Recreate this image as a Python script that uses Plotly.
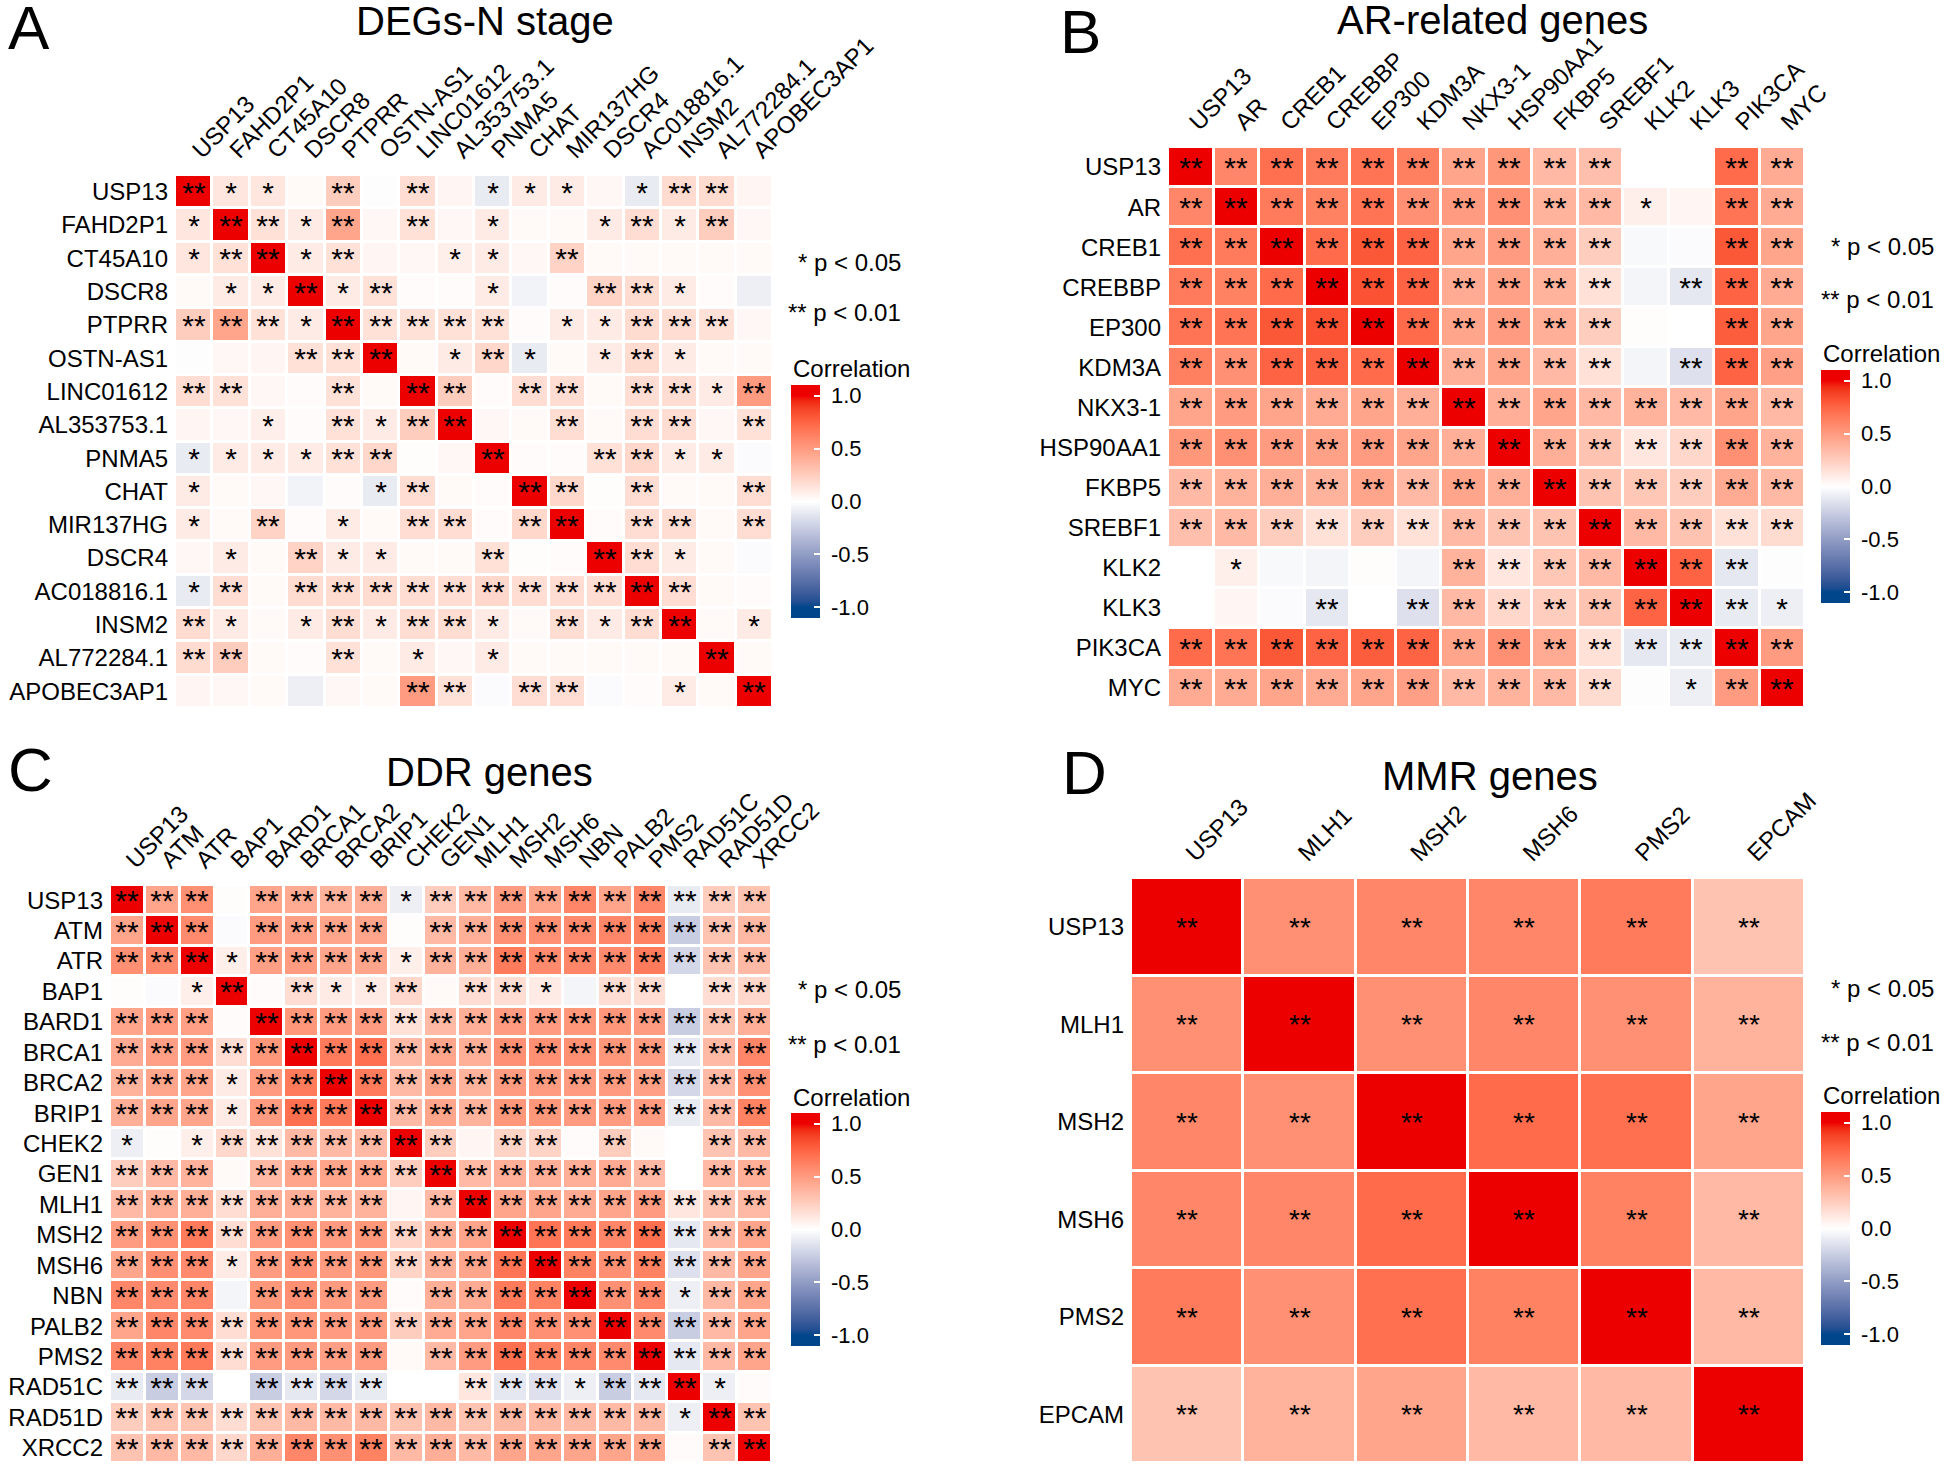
import plotly.graph_objects as go

W, H = 1944, 1466

# ---------------- DATA ----------------
genes_a = ["USP13", "FAHD2P1", "CT45A10", "DSCR8", "PTPRR", "OSTN-AS1", "LINC01612", "AL353753.1",
           "PNMA5", "CHAT", "MIR137HG", "DSCR4", "AC018816.1", "INSM2", "AL772284.1", "APOBEC3AP1"]
corr_a = [
    [1.0, 0.12, 0.12, 0.03, 0.25, -0.01, 0.17, 0.05, -0.10, 0.10, 0.10, 0.04, -0.10, 0.18, 0.18, 0.05],
    [0.12, 1.0, 0.15, 0.10, 0.45, 0.04, 0.15, 0.04, 0.10, 0.03, 0.03, 0.10, 0.17, 0.10, 0.25, 0.04],
    [0.12, 0.15, 1.0, 0.10, 0.15, 0.05, 0.04, 0.08, 0.10, 0.04, 0.22, 0.03, 0.03, 0.03, 0.03, 0.03],
    [0.03, 0.10, 0.10, 1.0, 0.10, 0.15, 0.02, 0.02, 0.10, -0.06, 0.02, 0.22, 0.18, 0.10, 0.02, -0.08],
    [0.25, 0.45, 0.15, 0.10, 1.0, 0.15, 0.15, 0.15, 0.15, 0.02, 0.10, 0.10, 0.18, 0.17, 0.15, 0.04],
    [-0.01, 0.04, 0.05, 0.15, 0.15, 1.0, 0.03, 0.10, 0.20, -0.10, 0.03, 0.10, 0.18, 0.10, 0.03, 0.03],
    [0.17, 0.15, 0.04, 0.02, 0.15, 0.03, 1.0, 0.25, 0.02, 0.17, 0.17, 0.03, 0.17, 0.17, 0.10, 0.50],
    [0.05, 0.04, 0.08, 0.02, 0.15, 0.10, 0.25, 1.0, 0.04, 0.03, 0.17, 0.03, 0.17, 0.17, 0.04, 0.15],
    [-0.10, 0.10, 0.10, 0.10, 0.15, 0.20, 0.01, 0.04, 1.0, 0.02, 0.02, 0.15, 0.20, 0.10, 0.10, -0.02],
    [0.10, 0.03, 0.04, -0.06, 0.02, -0.10, 0.17, 0.03, 0.02, 1.0, 0.20, 0.01, 0.17, 0.03, 0.03, 0.17],
    [0.10, 0.03, 0.22, 0.02, 0.10, 0.03, 0.17, 0.17, 0.02, 0.20, 1.0, 0.02, 0.17, 0.17, 0.03, 0.17],
    [0.04, 0.10, 0.03, 0.22, 0.10, 0.10, 0.03, 0.03, 0.15, 0.01, 0.02, 1.0, 0.17, 0.10, 0.03, -0.02],
    [-0.10, 0.17, 0.03, 0.18, 0.18, 0.18, 0.17, 0.17, 0.20, 0.17, 0.17, 0.17, 1.0, 0.17, 0.03, 0.02],
    [0.18, 0.10, 0.03, 0.10, 0.17, 0.10, 0.17, 0.17, 0.10, 0.03, 0.17, 0.10, 0.17, 1.0, 0.03, 0.10],
    [0.18, 0.25, 0.03, 0.02, 0.15, 0.03, 0.10, 0.04, 0.10, 0.03, 0.03, 0.03, 0.03, 0.03, 1.0, 0.03],
    [0.05, 0.04, 0.03, -0.08, 0.04, 0.03, 0.50, 0.15, -0.02, 0.17, 0.17, -0.02, 0.02, 0.10, 0.03, 1.0],
]
# significance codes: 0 = none, 1 = p<0.05 (*), 2 = p<0.01 (**)
sig_a = ["2110202011101220", "1221202010012120", "1221200110200000", "0112120010022100",
         "2221222220112220", "0002220121012100", "2200202202202212", "0010212200202202",
         "1111220020022110", "1000012002202002", "1020102202202202", "0102110020022100",
         "1202222222222200", "2101212210212201", "2200201010000020", "0000002202200102"]

genes_b = ["USP13", "AR", "CREB1", "CREBBP", "EP300", "KDM3A", "NKX3-1", "HSP90AA1", "FKBP5",
           "SREBF1", "KLK2", "KLK3", "PIK3CA", "MYC"]
corr_b = [
    [1.0, 0.60, 0.70, 0.65, 0.68, 0.63, 0.45, 0.52, 0.35, 0.32, 0.00, 0.00, 0.72, 0.42],
    [0.60, 1.0, 0.65, 0.62, 0.68, 0.55, 0.50, 0.55, 0.38, 0.35, 0.08, 0.05, 0.68, 0.42],
    [0.70, 0.65, 1.0, 0.72, 0.80, 0.75, 0.45, 0.50, 0.40, 0.25, -0.03, -0.02, 0.80, 0.45],
    [0.65, 0.62, 0.72, 1.0, 0.82, 0.75, 0.42, 0.47, 0.38, 0.15, -0.05, -0.12, 0.75, 0.42],
    [0.68, 0.68, 0.80, 0.82, 1.0, 0.72, 0.45, 0.50, 0.40, 0.25, 0.01, 0.00, 0.78, 0.45],
    [0.63, 0.55, 0.75, 0.75, 0.72, 1.0, 0.40, 0.45, 0.35, 0.15, -0.05, -0.15, 0.75, 0.48],
    [0.45, 0.50, 0.45, 0.42, 0.45, 0.40, 1.0, 0.40, 0.45, 0.35, 0.38, 0.35, 0.45, 0.35],
    [0.52, 0.55, 0.50, 0.47, 0.50, 0.45, 0.40, 1.0, 0.40, 0.30, 0.12, 0.20, 0.55, 0.38],
    [0.35, 0.38, 0.40, 0.38, 0.45, 0.35, 0.45, 0.40, 1.0, 0.30, 0.28, 0.25, 0.42, 0.35],
    [0.32, 0.35, 0.25, 0.15, 0.25, 0.15, 0.35, 0.30, 0.30, 1.0, 0.35, 0.30, 0.15, 0.18],
    [0.00, 0.08, -0.03, -0.05, 0.01, -0.05, 0.38, 0.12, 0.28, 0.35, 1.0, 0.75, -0.12, -0.01],
    [0.00, 0.05, -0.02, -0.12, 0.00, -0.15, 0.35, 0.20, 0.25, 0.30, 0.75, 1.0, -0.10, -0.08],
    [0.72, 0.68, 0.80, 0.75, 0.78, 0.75, 0.45, 0.55, 0.42, 0.15, -0.12, -0.10, 1.0, 0.50],
    [0.42, 0.42, 0.45, 0.42, 0.45, 0.48, 0.35, 0.38, 0.35, 0.18, -0.01, -0.08, 0.50, 1.0],
]
sig_b = ["22222222220022", "22222222221022", "22222222220022", "22222222220222",
         "22222222220022", "22222222220222", "22222222222222", "22222222222222",
         "22222222222222", "22222222222222", "01000022222220", "00020222222221",
         "22222222222222", "22222222220122"]

genes_c = ["USP13", "ATM", "ATR", "BAP1", "BARD1", "BRCA1", "BRCA2", "BRIP1", "CHEK2", "GEN1",
           "MLH1", "MSH2", "MSH6", "NBN", "PALB2", "PMS2", "RAD51C", "RAD51D", "XRCC2"]
corr_c = [
    [1.0, 0.45, 0.55, 0.01, 0.45, 0.42, 0.38, 0.40, -0.08, 0.25, 0.35, 0.50, 0.45, 0.60, 0.45, 0.60, -0.10, 0.25, 0.30],
    [0.45, 1.0, 0.58, -0.02, 0.50, 0.48, 0.45, 0.45, 0.01, 0.35, 0.40, 0.55, 0.55, 0.58, 0.60, 0.62, -0.25, 0.30, 0.35],
    [0.55, 0.58, 1.0, 0.08, 0.48, 0.50, 0.45, 0.45, 0.08, 0.38, 0.40, 0.65, 0.58, 0.60, 0.58, 0.65, -0.20, 0.30, 0.35],
    [0.01, -0.02, 0.08, 1.0, 0.02, 0.17, 0.10, 0.10, 0.20, 0.03, 0.17, 0.17, 0.10, -0.05, 0.17, 0.17, 0.00, 0.17, 0.20],
    [0.45, 0.50, 0.48, 0.02, 1.0, 0.52, 0.50, 0.50, 0.15, 0.35, 0.40, 0.50, 0.50, 0.52, 0.52, 0.50, -0.25, 0.30, 0.40],
    [0.42, 0.48, 0.50, 0.17, 0.52, 1.0, 0.65, 0.70, 0.35, 0.45, 0.40, 0.55, 0.55, 0.55, 0.52, 0.50, -0.12, 0.35, 0.60],
    [0.38, 0.45, 0.45, 0.10, 0.50, 0.65, 1.0, 0.65, 0.35, 0.45, 0.38, 0.50, 0.50, 0.50, 0.50, 0.48, -0.20, 0.35, 0.55],
    [0.40, 0.45, 0.45, 0.10, 0.50, 0.70, 0.65, 1.0, 0.35, 0.45, 0.38, 0.52, 0.52, 0.50, 0.50, 0.50, -0.10, 0.35, 0.62],
    [-0.08, 0.01, 0.08, 0.20, 0.15, 0.35, 0.35, 0.35, 1.0, 0.25, 0.05, 0.22, 0.22, 0.02, 0.25, 0.03, 0.00, 0.30, 0.35],
    [0.25, 0.35, 0.38, 0.03, 0.35, 0.45, 0.45, 0.45, 0.25, 1.0, 0.35, 0.40, 0.40, 0.40, 0.42, 0.35, 0.00, 0.35, 0.40],
    [0.35, 0.40, 0.40, 0.17, 0.40, 0.40, 0.38, 0.38, 0.05, 0.35, 1.0, 0.45, 0.45, 0.42, 0.45, 0.50, 0.12, 0.30, 0.35],
    [0.50, 0.55, 0.65, 0.17, 0.50, 0.55, 0.50, 0.52, 0.22, 0.40, 0.45, 1.0, 0.68, 0.65, 0.60, 0.70, -0.12, 0.35, 0.45],
    [0.45, 0.55, 0.58, 0.10, 0.50, 0.55, 0.50, 0.52, 0.22, 0.40, 0.45, 0.68, 1.0, 0.62, 0.55, 0.62, -0.15, 0.35, 0.45],
    [0.60, 0.58, 0.60, -0.05, 0.52, 0.55, 0.50, 0.50, 0.02, 0.40, 0.42, 0.65, 0.62, 1.0, 0.55, 0.60, -0.08, 0.35, 0.45],
    [0.45, 0.60, 0.58, 0.17, 0.52, 0.52, 0.50, 0.50, 0.25, 0.42, 0.45, 0.60, 0.55, 0.55, 1.0, 0.58, -0.25, 0.35, 0.45],
    [0.60, 0.62, 0.65, 0.17, 0.50, 0.50, 0.48, 0.50, 0.03, 0.35, 0.50, 0.70, 0.62, 0.60, 0.58, 1.0, -0.12, 0.35, 0.45],
    [-0.10, -0.25, -0.20, 0.00, -0.25, -0.12, -0.20, -0.10, 0.00, 0.00, 0.12, -0.12, -0.15, -0.08, -0.25, -0.12, 1.0, -0.08, 0.02],
    [0.25, 0.30, 0.30, 0.17, 0.30, 0.35, 0.35, 0.35, 0.30, 0.35, 0.30, 0.35, 0.35, 0.35, 0.35, 0.35, -0.08, 1.0, 0.30],
    [0.30, 0.35, 0.35, 0.20, 0.40, 0.60, 0.55, 0.62, 0.35, 0.40, 0.35, 0.45, 0.45, 0.45, 0.45, 0.45, 0.02, 0.30, 1.0],
]
sig_c = ["2220222212222222222", "2220222202222222222", "2221222212222222222", "0012021120221022022",
         "2220222222222222222", "2222222222222222222", "2221222222222222222", "2221222222222222222",
         "1012222222022020022", "2220222222222222022", "2222222202222222222", "2222222222222222222",
         "2221222222222222222", "2220222202222222122", "2222222222222222222", "2222222202222222222",
         "2220222200222122210", "2222222222222222122", "2222222222222222022"]

genes_d = ["USP13", "MLH1", "MSH2", "MSH6", "PMS2", "EPCAM"]
corr_d = [
    [1.0, 0.55, 0.60, 0.60, 0.65, 0.30],
    [0.55, 1.0, 0.55, 0.60, 0.55, 0.38],
    [0.60, 0.55, 1.0, 0.72, 0.70, 0.45],
    [0.60, 0.60, 0.72, 1.0, 0.62, 0.35],
    [0.65, 0.55, 0.70, 0.62, 1.0, 0.35],
    [0.30, 0.38, 0.45, 0.35, 0.35, 1.0],
]
sig_d = ["222222", "222222", "222222", "222222", "222222", "222222"]

titles = ["DEGs-N stage", "AR-related genes", "DDR genes", "MMR genes"]
letters = ["A", "B", "C", "D"]
cbar_ticks = [-1.0, -0.5, 0.0, 0.5, 1.0]

# ---------------- STYLE ----------------
FONT = "Liberation Sans, Arial, Helvetica, sans-serif"
LOW, MID, HIGH = "#00468B", "#FFFFFF", "#ED0000"
CLIM = 1.1


def hex2rgb(h):
    h = h.lstrip("#")
    return [int(h[i:i + 2], 16) for i in (0, 2, 4)]


def rgb2lab(rgb):
    def lin(c):
        c = c / 255.0
        return c / 12.92 if c <= 0.04045 else ((c + 0.055) / 1.055) ** 2.4
    r, g, b = [lin(c) for c in rgb]
    x = (0.4124 * r + 0.3576 * g + 0.1805 * b) / 0.95047
    y = (0.2126 * r + 0.7152 * g + 0.0722 * b) / 1.0
    z = (0.0193 * r + 0.1192 * g + 0.9505 * b) / 1.08883

    def f(t):
        return t ** (1 / 3) if t > 0.008856 else 7.787 * t + 16 / 116
    fx, fy, fz = f(x), f(y), f(z)
    return [116 * fy - 16, 500 * (fx - fy), 200 * (fy - fz)]


def lab2rgb(lab):
    L, a, b = lab
    fy = (L + 16) / 116
    fx = fy + a / 500
    fz = fy - b / 200

    def finv(t):
        return t ** 3 if t ** 3 > 0.008856 else (t - 16 / 116) / 7.787
    x, y, z = finv(fx) * 0.95047, finv(fy), finv(fz) * 1.08883
    r = 3.2406 * x - 1.5372 * y - 0.4986 * z
    g = -0.9689 * x + 1.8758 * y + 0.0415 * z
    bb = 0.0557 * x - 0.2040 * y + 1.0570 * z

    def gam(c):
        c = max(0.0, min(1.0, c))
        return 255 * (12.92 * c if c <= 0.0031308 else 1.055 * c ** (1 / 2.4) - 0.055)
    return "rgb(%d,%d,%d)" % tuple(round(gam(c)) for c in (r, g, bb))


lab_low, lab_mid, lab_high = rgb2lab(hex2rgb(LOW)), rgb2lab(hex2rgb(MID)), rgb2lab(hex2rgb(HIGH))


def color_at(v):
    if v < 0:
        t = -v
        lab = [lab_mid[i] + (lab_low[i] - lab_mid[i]) * t for i in range(3)]
    else:
        lab = [lab_mid[i] + (lab_high[i] - lab_mid[i]) * v for i in range(3)]
    return lab2rgb(lab)


colorscale = [[0.0, color_at(-1.0)]]
for k in range(41):
    v = -1.0 + k * 0.05
    colorscale.append([(v + CLIM) / (2 * CLIM), color_at(v)])
colorscale.append([1.0, color_at(1.0)])

sym = {"0": "", "1": "*", "2": "**"}


def px(x):
    return x / W


def py(y):
    return 1 - y / H


# panel geometry in pixels: heatmap box, title, letter, legend
panels = [
    dict(genes=genes_a, z=corr_a, sig=sig_a, box=(175, 773, 175, 708), title=(485, 21), letter=(6, 28),
         leg_right=903, leg_y=(262, 313, 368), cb_x=791, cb_top=385, star=30),
    dict(genes=genes_b, z=corr_b, sig=sig_b, box=(1168, 1805, 147, 708), title=(1492, 20), letter=(1058, 31),
         leg_right=1936, leg_y=(247, 300, 353), cb_x=1821, cb_top=370, star=30),
    dict(genes=genes_c, z=corr_c, sig=sig_c, box=(110, 772, 885, 1463), title=(489, 772), letter=(6, 769),
         leg_right=903, leg_y=(989, 1044, 1097), cb_x=791, cb_top=1113, star=30),
    dict(genes=genes_d, z=corr_d, sig=sig_d, box=(1131, 1805, 878, 1463), title=(1490, 776), letter=(1060, 773),
         leg_right=1936, leg_y=(988, 1042, 1095), cb_x=1821, cb_top=1112, star=28),
]

fig = go.Figure()
annotations = []
layout = dict(width=W, height=H, margin=dict(l=0, r=0, t=0, b=0, autoexpand=False), paper_bgcolor="white",
              plot_bgcolor="white", font=dict(family=FONT, color="black"), showlegend=False)

for i, p in enumerate(panels):
    n = i + 1
    sfx = "" if n == 1 else str(n)
    text = [[sym[c] for c in row] for row in p["sig"]]
    fig.add_trace(go.Heatmap(
        x=p["genes"], y=p["genes"], z=p["z"], text=text, texttemplate="%{text}",
        textfont=dict(size=p["star"], color="black", family=FONT),
        coloraxis="coloraxis" + sfx, xgap=3, ygap=3, hoverinfo="skip",
        xaxis="x" + sfx, yaxis="y" + sfx))
    x0, x1, y0, y1 = p["box"]
    layout["xaxis" + sfx] = dict(domain=[px(x0), px(x1)], anchor="y" + sfx, side="top", tickangle=-45,
                                 type="category", tickmode="array", tickvals=p["genes"], ticktext=p["genes"],
                                 showgrid=False, zeroline=False, showline=False, ticks="", automargin=False,
                                 tickfont=dict(size=24, family=FONT, color="black"), ticklabelstandoff=6)
    layout["yaxis" + sfx] = dict(domain=[py(y1), py(y0)], anchor="x" + sfx, autorange="reversed",
                                 type="category", tickmode="array", tickvals=p["genes"], ticktext=p["genes"],
                                 showgrid=False, zeroline=False, showline=False, ticks="", automargin=False,
                                 tickfont=dict(size=24, family=FONT, color="black"), ticklabelstandoff=6)
    layout["coloraxis" + sfx] = dict(
        colorscale=colorscale, cmin=-CLIM, cmax=CLIM,
        colorbar=dict(x=px(p["cb_x"]), xanchor="left", y=py(p["cb_top"]), yanchor="top",
                      lenmode="pixels", len=233, thicknessmode="pixels", thickness=29,
                      xpad=0, ypad=0, outlinewidth=0, tickmode="array", tickvals=cbar_ticks,
                      ticktext=["\u00a0" + "%.1f" % t for t in cbar_ticks], ticks="inside", ticklen=6,
                      tickcolor="white", tickwidth=2,
                      tickfont=dict(size=22, family=FONT, color="black")))
    annotations.append(dict(text=titles[i], x=px(p["title"][0]), y=py(p["title"][1]), xref="paper",
                            yref="paper", xanchor="center", yanchor="middle", showarrow=False,
                            font=dict(size=40, family=FONT, color="black")))
    annotations.append(dict(text=letters[i], x=px(p["letter"][0]), y=py(p["letter"][1]), xref="paper",
                            yref="paper", xanchor="left", yanchor="middle", showarrow=False,
                            font=dict(size=62, family=FONT, color="black")))
    for t, yy in zip(["* p < 0.05", "** p < 0.01"], p["leg_y"][:2]):
        annotations.append(dict(text=t, x=px(p["leg_right"]), y=py(yy), xref="paper", yref="paper",
                                xanchor="right", yanchor="middle", showarrow=False,
                                font=dict(size=24, family=FONT, color="black")))
    annotations.append(dict(text="Correlation", x=px(p["cb_x"]), y=py(p["leg_y"][2]), xref="paper",
                            yref="paper", xanchor="left", yanchor="middle", showarrow=False,
                            font=dict(size=24, family=FONT, color="black")))

layout["annotations"] = annotations
fig.update_layout(**layout)
fig.write_html("out.html", config={"displayModeBar": False},
               post_script="document.body.style.margin='0px';document.body.style.overflow='hidden';")
